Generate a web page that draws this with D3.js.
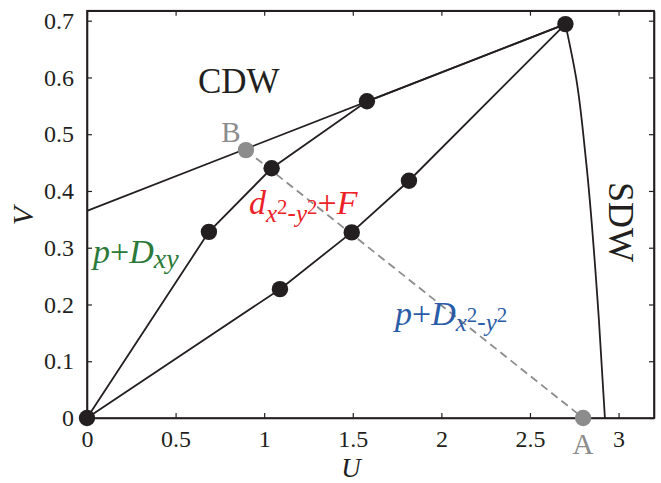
<!DOCTYPE html>
<html>
<head>
<meta charset="utf-8">
<script src="https://d3js.org/d3.v7.min.js"></script>
<style>
  body { margin: 0; background: #fff; }
  svg text { font-family: "Liberation Serif", "DejaVu Serif", serif !important; }
</style>
</head>
<body>
<div id="phase"></div>
<script>
// phase boundary data (U, V)
var upperU = [0, 0.688, 1.042, 1.58, 2.70];
var upperV = [0, 0.328, 0.440, 0.558, 0.694];
var lowerU = [0, 1.089, 1.494, 1.817, 2.70];
var lowerV = [0, 0.227, 0.327, 0.418, 0.694];
var cdwU = [0, 2.70];
var cdwV = [0.365, 0.694];
var sdwU = [2.70, 2.76, 2.816, 2.889, 2.923];
var sdwV = [0.694, 0.60, 0.4545, 0.173, 0];
var pathU = [0.897, 2.80];   // B -> A
var pathV = [0.472, 0];
var xTicks = [0, 0.5, 1, 1.5, 2, 2.5, 3];
var yTicks = [0, 0.1, 0.2, 0.3, 0.4, 0.5, 0.6, 0.7];

function phase() {
  var div = "#phase";
  var W = 661, H = 483;
  var margin = {top: 10.7, right: 7, bottom: 65, left: 87},
      width = W - margin.left - margin.right,
      height = H - margin.top - margin.bottom;

  var ink = "#231f20", grey = "#8c8c8c";
  var serif = "'Liberation Serif', 'DejaVu Serif', serif";

  var x = d3.scaleLinear().domain([0, 3.2]).range([0, width]);
  var y = d3.scaleLinear().domain([0, 0.7176]).range([height, 0]);

  var svg = d3.select(div).append("svg")
      .attr("width", W)
      .attr("height", H)
      .attr("font-family", serif);

  var g = svg.append("g")
      .attr("transform", "translate(" + margin.left + "," + margin.top + ")");

  //Axes with inward ticks on all four sides
  var fmt = function(d) { return d === 0 ? "0" : String(d); };
  var xAxis = d3.axisBottom(x).tickValues(xTicks).tickSizeInner(-5).tickSizeOuter(0).tickPadding(12).tickFormat(fmt);
  var yAxis = d3.axisLeft(y).tickValues(yTicks).tickSizeInner(-5).tickSizeOuter(0).tickPadding(13).tickFormat(fmt);
  var xTop = d3.axisTop(x).tickValues(xTicks).tickSizeInner(-5).tickSizeOuter(0).tickFormat("");
  var yRight = d3.axisRight(y).tickValues(yTicks).tickSizeInner(-5).tickSizeOuter(0).tickFormat("");

  g.append("g").attr("class", "axis")
      .attr("transform", "translate(0," + height + ")").call(xAxis);
  g.append("g").attr("class", "axis").call(yAxis);
  g.append("g").attr("class", "axis").call(xTop);
  g.append("g").attr("class", "axis")
      .attr("transform", "translate(" + width + ",0)").call(yRight);

  g.selectAll(".axis").attr("font-family", serif);
  g.selectAll(".axis path").attr("stroke", ink).attr("stroke-width", 1.6);
  g.selectAll(".axis line").attr("stroke", ink).attr("stroke-width", 1.2);
  g.selectAll(".axis text").attr("font-size", 24).attr("fill", ink);
  // frame
  g.append("rect").attr("width", width).attr("height", height)
      .attr("fill", "none").attr("stroke", ink).attr("stroke-width", 1.6);

  //Lines
  var line = d3.line()
      .x(function(d) { return x(d[0]); })
      .y(function(d) { return y(d[1]); });
  var zip = function(a, b) { return a.map(function(v, i) { return [v, b[i]]; }); };

  g.append("path").datum(zip(pathU, pathV)).attr("d", line)
      .attr("fill", "none").attr("stroke", grey).attr("stroke-width", 1.8)
      .attr("stroke-dasharray", "8,5");

  [zip(upperU, upperV), zip(lowerU, lowerV), zip(cdwU, cdwV)].forEach(function(d) {
    g.append("path").datum(d).attr("d", line)
        .attr("fill", "none").attr("stroke", ink).attr("stroke-width", 1.8);
  });
  g.append("path").datum(zip(sdwU, sdwV)).attr("d", line.curve(d3.curveMonotoneY))
      .attr("fill", "none").attr("stroke", ink).attr("stroke-width", 1.8);

  //Markers
  var dots = zip(upperU, upperV).concat(zip(lowerU, lowerV).slice(1, 4));
  g.selectAll(".dot").data(dots).enter().append("circle")
      .attr("class", "dot")
      .attr("cx", function(d) { return x(d[0]); })
      .attr("cy", function(d) { return y(d[1]); })
      .attr("r", 8.2).attr("fill", ink);

  g.selectAll(".gdot").data(zip(pathU, pathV)).enter().append("circle")
      .attr("class", "gdot")
      .attr("cx", function(d) { return x(d[0]); })
      .attr("cy", function(d) { return y(d[1]); })
      .attr("r", 8.2).attr("fill", grey);

  //Axis titles
  svg.append("text").attr("x", 351).attr("y", 477).attr("text-anchor", "middle")
      .attr("font-size", 27).attr("font-style", "italic").attr("fill", ink).text("U");
  svg.append("text").attr("transform", "translate(33,216) rotate(-90)").attr("text-anchor", "middle")
      .attr("font-size", 30).attr("font-style", "italic").attr("fill", ink).text("V");

  //Phase labels
  svg.append("text").attr("x", 198).attr("y", 93).attr("font-size", 35).attr("fill", ink).text("CDW");
  svg.append("text").attr("transform", "translate(609,222) rotate(90)").attr("text-anchor", "middle")
      .attr("font-size", 36).attr("fill", ink).text("SDW");
  svg.append("text").attr("x", 231).attr("y", 141.5).attr("text-anchor", "middle")
      .attr("font-size", 29).attr("fill", grey).text("B");
  svg.append("text").attr("x", 583).attr("y", 454).attr("text-anchor", "middle")
      .attr("font-size", 29).attr("fill", grey).text("A");

  function label(x0, y0, color, parts) {
    var t = svg.append("text").attr("x", x0).attr("y", y0).attr("fill", color);
    var base = 0;
    parts.forEach(function(p) {
      t.append("tspan").attr("dy", p.dy - base)
          .attr("font-size", p.size)
          .attr("font-style", p.it ? "italic" : "normal")
          .text(p.s);
      base = p.dy;
    });
  }

  label(249, 214, "#ec2227", [
    {s: "d", size: 34, it: true, dy: 0},
    {s: "x", size: 25, it: true, dy: 8},
    {s: "2", size: 21, it: false, dy: 0},
    {s: "-", size: 25, it: false, dy: 7},
    {s: "y", size: 25, it: true, dy: 8},
    {s: "2", size: 21, it: false, dy: 0},
    {s: "+", size: 34, it: false, dy: 0},
    {s: "F", size: 34, it: true, dy: 0}
  ]);

  label(93, 263, "#2b7a3a", [
    {s: "p", size: 34, it: true, dy: 0},
    {s: "+", size: 34, it: false, dy: 0},
    {s: "D", size: 34, it: true, dy: 0},
    {s: "xy", size: 28, it: true, dy: 5}
  ]);

  label(395, 325, "#2a5ca8", [
    {s: "p", size: 34, it: true, dy: 0},
    {s: "+", size: 34, it: false, dy: 0},
    {s: "D", size: 34, it: true, dy: 0},
    {s: "x", size: 25, it: true, dy: 6},
    {s: "2", size: 21, it: false, dy: -3},
    {s: "-", size: 25, it: false, dy: 5},
    {s: "y", size: 25, it: true, dy: 6},
    {s: "2", size: 21, it: false, dy: -3}
  ]);
}

phase();
</script>
</body>
</html>
